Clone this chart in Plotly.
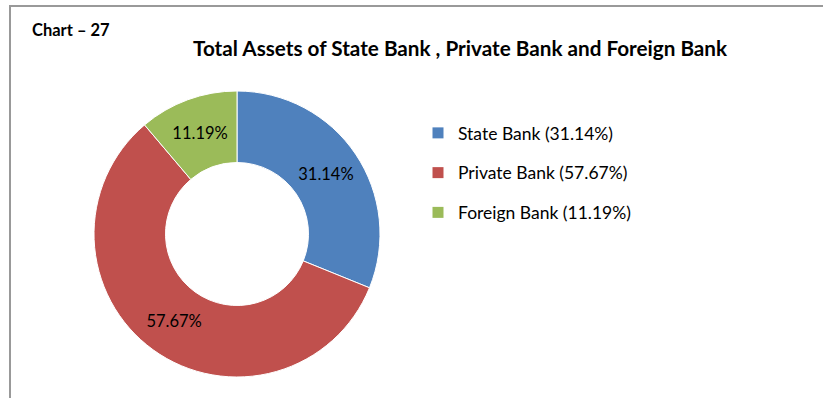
import plotly.graph_objects as go

categories = ["State Bank", "Private Bank", "Foreign Bank"]
values = [31.14, 57.67, 11.19]
colors = ["#4F81BD", "#C0504D", "#9BBB59"]
title_text = "Total Assets of State Bank , Private Bank and Foreign Bank"
chart_label = "Chart \u2013 27"

W, H = 823, 398
ML, MT = 11, 7          # plot-area offset so that axis lines form the border
WP, HP = W - ML, H - MT
FONT = "Lato"


def px(x):
    return (x - ML) / WP


def py(y):
    return (H - y) / HP


cx, cy, r = 237, 234, 143

fig = go.Figure()
fig.add_trace(go.Pie(
    labels=categories, values=values, sort=False, direction="clockwise",
    rotation=0, hole=0.5,
    marker=dict(colors=colors, line=dict(color="white", width=1)),
    texttemplate="%{value:.2f}%", textposition="inside",
    insidetextorientation="horizontal",
    textfont=dict(family=FONT, size=16.5, color="black"),
    showlegend=False, hoverinfo="label+value",
    domain=dict(x=[px(cx - r), px(cx + r)], y=[py(cy + r), py(cy - r)]),
))

for i, (c, v, col) in enumerate(zip(categories, values, colors)):
    fig.add_trace(go.Scatter(
        x=[None], y=[None], mode="markers",
        marker=dict(symbol="square", size=11, color=col),
        name=f"{c} ({v:.2f}%)", legendgroup=f"g{i}", showlegend=True,
    ))

axis_style = dict(showline=True, linecolor="#999999", linewidth=2, showgrid=False,
                  zeroline=False, showticklabels=False, ticks="", fixedrange=True)

fig.update_layout(
    width=W, height=H,
    margin=dict(l=ML, r=0, t=MT, b=0, pad=0),
    paper_bgcolor="white", plot_bgcolor="rgba(0,0,0,0)",
    xaxis=dict(side="top", range=[0, 1], **axis_style),
    yaxis=dict(side="left", range=[0, 1], **axis_style),
    legend=dict(
        x=px(418), y=py(115), xanchor="left", yanchor="top",
        font=dict(family=FONT, size=17.5, color="black"),
        tracegroupgap=14, itemwidth=30, bgcolor="rgba(0,0,0,0)",
    ),
    annotations=[
        dict(text=f"<b>{title_text}</b>", x=px(460), y=py(48), xref="paper", yref="paper",
             showarrow=False, xanchor="center", yanchor="middle",
             font=dict(family=FONT, size=20.7, color="black")),
        dict(text=f"<b>{chart_label}</b>", x=px(30), y=py(30), xref="paper", yref="paper",
             showarrow=False, xanchor="left", yanchor="middle",
             font=dict(family=FONT, size=16.5, color="black")),
    ],
)

fig.write_html("out.html", config={"displayModeBar": False},
               post_script="document.body.style.margin='0';document.body.style.overflow='hidden';window.scrollTo(0,0);")
